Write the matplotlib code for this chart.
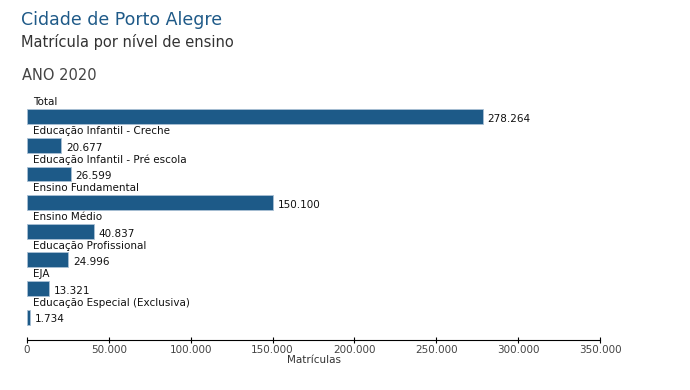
import matplotlib
matplotlib.use("Agg")
import matplotlib.pyplot as plt
from matplotlib.ticker import FuncFormatter

categories = ["Total", "Educação Infantil - Creche", "Educação Infantil - Pré escola",
              "Ensino Fundamental", "Ensino Médio", "Educação Profissional", "EJA",
              "Educação Especial (Exclusiva)"]
values = [278264, 20677, 26599, 150100, 40837, 24996, 13321, 1734]
value_labels = ["278.264", "20.677", "26.599", "150.100", "40.837", "24.996", "13.321", "1.734"]
xticks = [0, 50000, 100000, 150000, 200000, 250000, 300000, 350000]

bar_color = "#1d5a88"

fig = plt.figure(figsize=(6.9, 3.9), dpi=100)
ax = fig.add_axes([27/690, 1-340/390, 573/690, (340-91)/390])

ypos = list(range(len(categories)))
ax.barh(ypos, values, height=0.52, color=bar_color, edgecolor="#a9c0d4", linewidth=0.6)
for y, v, lab, cat in zip(ypos, values, value_labels, categories):
    ax.text(v + 3000, y + 0.08, lab, fontsize=7.5, va="center", ha="left", color="#111111")
    ax.text(3500, y - 0.5, cat, fontsize=7.5, va="center", ha="left", color="#111111")

ax.set_xlim(0, 350000)
ax.set_ylim(7.8, -0.9)
ax.set_yticks([])
ax.set_xticks(xticks)
ax.xaxis.set_major_formatter(FuncFormatter(lambda x, p: f"{int(x):,}".replace(",", ".")))
for s in ["top", "right", "left"]:
    ax.spines[s].set_visible(False)
ax.spines["bottom"].set_color("black")
ax.spines["bottom"].set_linewidth(0.8)
ax.tick_params(axis="x", direction="inout", length=5, width=0.8, labelsize=7.5,
               labelcolor="#444444", pad=1)
ax.set_xlabel("Matrículas", fontsize=7.5, color="#333333", labelpad=0)

fig.text(21/690, 1-20/390, "Cidade de Porto Alegre", fontsize=12.5, color="#1f5a88",
         va="center", ha="left")
fig.text(21/690, 1-42/390, "Matrícula por nível de ensino", fontsize=10.5, color="#333333",
         va="center", ha="left")
fig.text(22/690, 1-75/390, "ANO 2020", fontsize=10.5, color="#444444", va="center", ha="left")

fig.savefig("out.png", dpi=100)
